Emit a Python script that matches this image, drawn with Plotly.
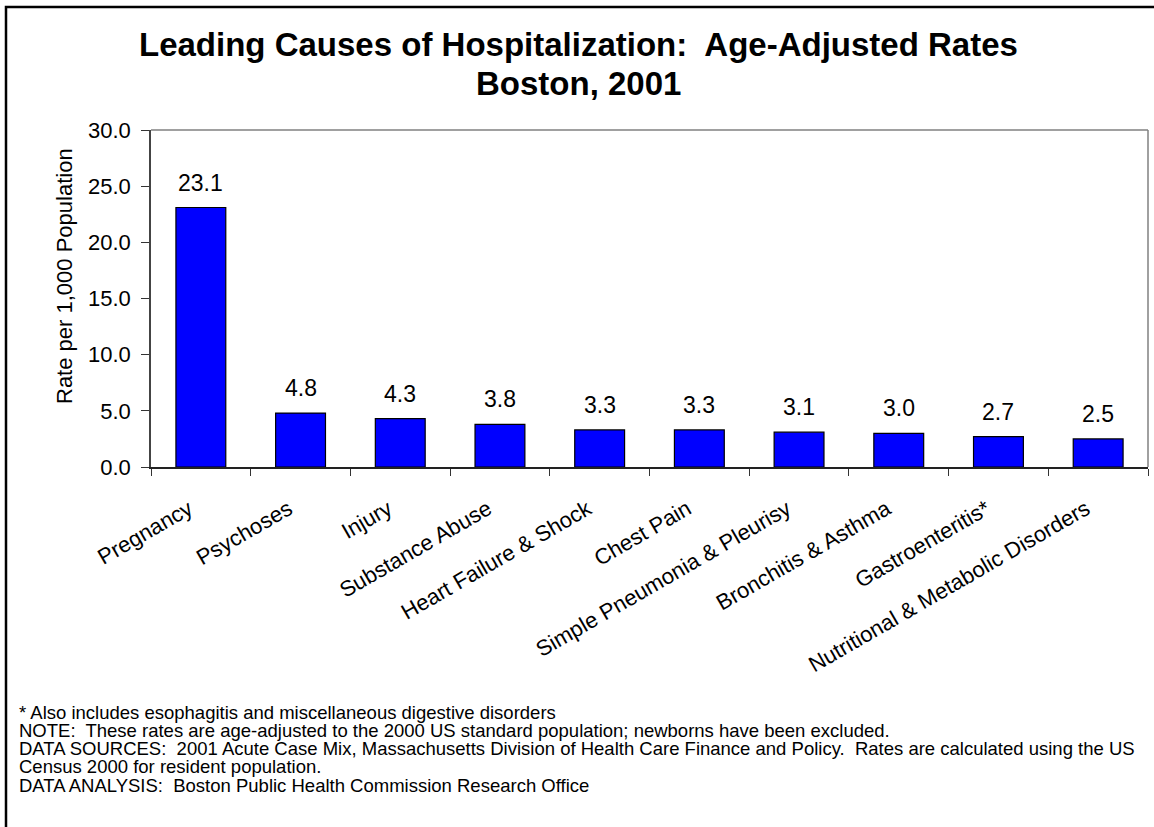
import plotly.graph_objects as go

categories = ["Pregnancy", "Psychoses", "Injury", "Substance Abuse", "Heart Failure & Shock",
              "Chest Pain", "Simple Pneumonia & Pleurisy", "Bronchitis & Asthma",
              "Gastroenteritis*", "Nutritional & Metabolic Disorders"]
rates = [23.1, 4.8, 4.3, 3.8, 3.3, 3.3, 3.1, 3.0, 2.7, 2.5]
y_ticks = [0, 5, 10, 15, 20, 25, 30]
y_tick_labels = ["0.0", "5.0", "10.0", "15.0", "20.0", "25.0", "30.0"]
title_lines = ["Leading Causes of Hospitalization:  Age-Adjusted Rates", "Boston, 2001"]
y_title = "Rate per 1,000 Population"
footnotes = [
    "* Also includes esophagitis and miscellaneous digestive disorders",
    "NOTE:  These rates are age-adjusted to the 2000 US standard population; newborns have been excluded.",
    "DATA SOURCES:  2001 Acute Case Mix, Massachusetts Division of Health Care Finance and Policy.  Rates are calculated using the US",
    "Census 2000 for resident population.",
    "DATA ANALYSIS:  Boston Public Health Commission Research Office",
]

W, H = 1154, 827
PL, PT, PR, PB = 151, 130, 1148, 467          # plot area in page px
L, T, R, B = PL, PT, W - PR, H - PB
PW, PH = PR - PL, PB - PT

def px_x(x):
    return (x - PL) / PW

def px_y(y):
    return (PB - y) / PH

FONT = "Arial, 'Liberation Sans', sans-serif"

fig = go.Figure()
fig.add_trace(go.Bar(
    x=categories, y=rates, width=0.5,
    marker=dict(color="#0000FF", line=dict(color="#000000", width=1.2)),
    hoverinfo="x+y",
))

annotations = []
for c, v in zip(categories, rates):
    annotations.append(dict(x=c, y=v, xref="x", yref="y", text=f"{v:.1f}",
                            showarrow=False, yanchor="bottom", yshift=10,
                            font=dict(family=FONT, size=23, color="#000")))

annotations.append(dict(x=px_x(578), y=px_y(44), xref="paper", yref="paper",
                        text="<b>" + title_lines[0] + "</b>", showarrow=False,
                        xanchor="center", yanchor="middle",
                        font=dict(family=FONT, size=33, color="#000")))
annotations.append(dict(x=px_x(578), y=px_y(84), xref="paper", yref="paper",
                        text="<b>" + title_lines[1] + "</b>", showarrow=False,
                        xanchor="center", yanchor="middle",
                        font=dict(family=FONT, size=33, color="#000")))
annotations.append(dict(x=px_x(64), y=px_y(276), xref="paper", yref="paper",
                        text=y_title, showarrow=False, textangle=-90,
                        xanchor="center", yanchor="middle",
                        font=dict(family=FONT, size=22, color="#000")))
for i, line in enumerate(footnotes):
    annotations.append(dict(x=px_x(17), y=px_y(712 + i * 18.3), xref="paper", yref="paper",
                            text=line, showarrow=False, xanchor="left", yanchor="middle",
                            font=dict(family=FONT, size=18.5, color="#000")))

shapes = [
    dict(type="line", xref="paper", yref="paper", x0=0, x1=1, y0=1, y1=1,
         line=dict(color="#808080", width=1.5)),
    dict(type="line", xref="paper", yref="paper", x0=1, x1=1, y0=0, y1=1,
         line=dict(color="#808080", width=1.5)),
    dict(type="rect", xref="paper", yref="paper", x0=px_x(6), x1=px_x(1180),
         y0=px_y(860), y1=px_y(7), line=dict(color="#000000", width=2.5),
         fillcolor="rgba(0,0,0,0)", layer="above"),
]

fig.update_layout(
    width=W, height=H,
    margin=dict(l=L, r=R, t=T, b=B, autoexpand=False),
    paper_bgcolor="white", plot_bgcolor="white",
    showlegend=False, bargap=0.5,
    font=dict(family=FONT, size=22, color="#000"),
    annotations=annotations, shapes=shapes,
    xaxis=dict(type="category", tickangle=-30, tickson="boundaries",
               ticks="outside", ticklen=7, tickcolor="#333", tickwidth=1.2,
               showline=True, linecolor="#222", linewidth=1.5,
               tickfont=dict(family=FONT, size=22, color="#000"),
               ticklabelstandoff=19, ticklabelshift=-12,
               showgrid=False, automargin=False, fixedrange=True),
    yaxis=dict(range=[0, 30], tickvals=y_ticks, ticktext=y_tick_labels,
               ticks="outside", ticklen=8, tickcolor="#333", tickwidth=1.2,
               showline=True, linecolor="#444", linewidth=1.5,
               tickfont=dict(family=FONT, size=22, color="#000"),
               ticklabelstandoff=6,
               showgrid=False, zeroline=False, automargin=False, fixedrange=True),
)

fig.write_html("out.html", config={"displayModeBar": False},
               post_script="document.body.style.margin='0';document.body.style.overflow='hidden';")
